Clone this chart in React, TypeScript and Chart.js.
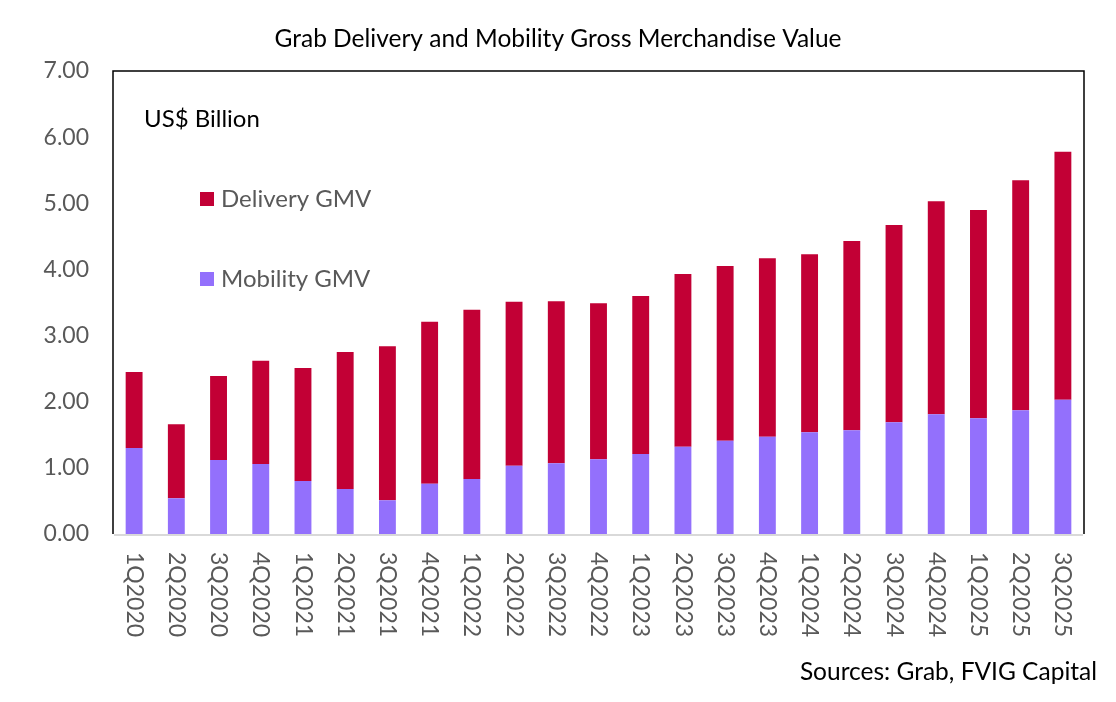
import React, { useEffect, useRef } from "react";
import { Chart, registerables } from "chart.js";

Chart.register(...registerables);

const categories = [
  "1Q2020", "2Q2020", "3Q2020", "4Q2020",
  "1Q2021", "2Q2021", "3Q2021", "4Q2021",
  "1Q2022", "2Q2022", "3Q2022", "4Q2022",
  "1Q2023", "2Q2023", "3Q2023", "4Q2023",
  "1Q2024", "2Q2024", "3Q2024", "4Q2024",
  "1Q2025", "2Q2025", "3Q2025",
];

const mobilityGMV = [
  1.30, 0.54, 1.12, 1.06,
  0.80, 0.68, 0.51, 0.76,
  0.83, 1.03, 1.07, 1.13,
  1.21, 1.32, 1.41, 1.47,
  1.54, 1.57, 1.69, 1.81,
  1.75, 1.87, 2.03,
];

const deliveryGMV = [
  1.15, 1.12, 1.27, 1.56,
  1.71, 2.07, 2.33, 2.45,
  2.56, 2.48, 2.45, 2.36,
  2.39, 2.61, 2.64, 2.70,
  2.69, 2.86, 2.98, 3.22,
  3.15, 3.48, 3.75,
];

const yTicks = [0, 1, 2, 3, 4, 5, 6, 7];

const TITLE = "Grab Delivery and Mobility Gross Merchandise Value";
const UNIT_LABEL = "US$ Billion";
const SOURCE = "Sources: Grab, FVIG Capital";

const DELIVERY_COLOR = "#C20035";
const MOBILITY_COLOR = "#9370FC";
const GRAY = "#595959";
const FONT = "Lato, 'Noto Sans', sans-serif";

const decorPlugin = {
  id: "decor",
  afterDatasetsDraw(chart: any) {
    const { ctx, chartArea } = chart;
    const { left, right, top, bottom } = chartArea;
    ctx.save();
    // title
    ctx.fillStyle = "#000";
    ctx.font = `24.5px ${FONT}`;
    ctx.textAlign = "center";
    ctx.textBaseline = "middle";
    ctx.fillText(TITLE, chart.width / 2, 39);

    // frame
    ctx.strokeStyle = "#000";
    ctx.lineWidth = 1.5;
    ctx.beginPath();
    ctx.moveTo(left, bottom);
    ctx.lineTo(left, top);
    ctx.lineTo(right, top);
    ctx.lineTo(right, bottom);
    ctx.stroke();
    // baseline
    ctx.strokeStyle = "#D9D9D9";
    ctx.lineWidth = 2;
    ctx.beginPath();
    ctx.moveTo(left + 1, bottom + 1);
    ctx.lineTo(right - 1, bottom + 1);
    ctx.stroke();

    // x labels rotated clockwise
    const xScale = chart.scales.x;
    ctx.fillStyle = GRAY;
    ctx.font = `23px ${FONT}`;
    ctx.textAlign = "left";
    ctx.textBaseline = "middle";
    categories.forEach((lab, i) => {
      const x = xScale.getPixelForTick(i);
      ctx.save();
      ctx.translate(x, bottom + 18);
      ctx.rotate(Math.PI / 2);
      ctx.fillText(lab, 0, 0);
      ctx.restore();
    });

    // unit label
    ctx.fillStyle = "#000";
    ctx.font = `24px ${FONT}`;
    ctx.textBaseline = "alphabetic";
    ctx.fillText(UNIT_LABEL, left + 31, top + 56);

    // legend
    const items = [
      { label: chart.data.datasets[1].label, color: DELIVERY_COLOR, y: top + 121 },
      { label: chart.data.datasets[0].label, color: MOBILITY_COLOR, y: top + 201 },
    ];
    ctx.font = `24px ${FONT}`;
    items.forEach((it) => {
      ctx.fillStyle = it.color;
      ctx.fillRect(left + 87, it.y, 14, 14);
      ctx.fillStyle = GRAY;
      ctx.fillText(it.label, left + 108, it.y + 15);
    });

    // source
    ctx.fillStyle = "#000";
    ctx.textAlign = "right";
    ctx.font = `24.5px ${FONT}`;
    ctx.fillText(SOURCE, chart.width - 19, 680);
    ctx.restore();
  },
};

export default function App() {
  const canvasRef = useRef<HTMLCanvasElement | null>(null);

  useEffect(() => {
    if (!canvasRef.current) return;
    const chart = new Chart(canvasRef.current, {
      type: "bar",
      data: {
        labels: categories,
        datasets: [
          {
            label: "Mobility GMV",
            data: mobilityGMV,
            backgroundColor: MOBILITY_COLOR,
            categoryPercentage: 1,
            barPercentage: 0.4,
          },
          {
            label: "Delivery GMV",
            data: deliveryGMV,
            backgroundColor: DELIVERY_COLOR,
            categoryPercentage: 1,
            barPercentage: 0.4,
          },
        ],
      },
      options: {
        animation: false,
        responsive: false,
        devicePixelRatio: 1,
        layout: { padding: { left: 0, right: 32, top: 71, bottom: 0 } },
        plugins: {
          legend: { display: false },
          tooltip: { enabled: false },
          title: { display: false },
        },
        scales: {
          x: {
            stacked: true,
            grid: { display: false, drawTicks: false },
            border: { display: false },
            ticks: { display: false },
            afterFit: (scale: any) => {
              scale.height = 168;
            },
          },
          y: {
            stacked: true,
            min: 0,
            max: 7,
            grid: { display: false, drawTicks: false },
            border: { display: false },
            afterBuildTicks: (scale: any) => {
              scale.ticks = yTicks.map((v) => ({ value: v }));
            },
            ticks: {
              color: GRAY,
              padding: 24,
              font: { family: FONT, size: 23 },
              callback: (v: any) => Number(v).toFixed(2),
            },
            afterFit: (scale: any) => {
              scale.width = 113;
            },
          },
        },
      },
      plugins: [decorPlugin],
    });
    return () => chart.destroy();
  }, []);

  return (
    <div style={{ position: "fixed", left: 0, top: 0, width: 1116, height: 702, background: "#fff" }}>
      <canvas ref={canvasRef} width={1116} height={702} style={{ display: "block" }} />
    </div>
  );
}
